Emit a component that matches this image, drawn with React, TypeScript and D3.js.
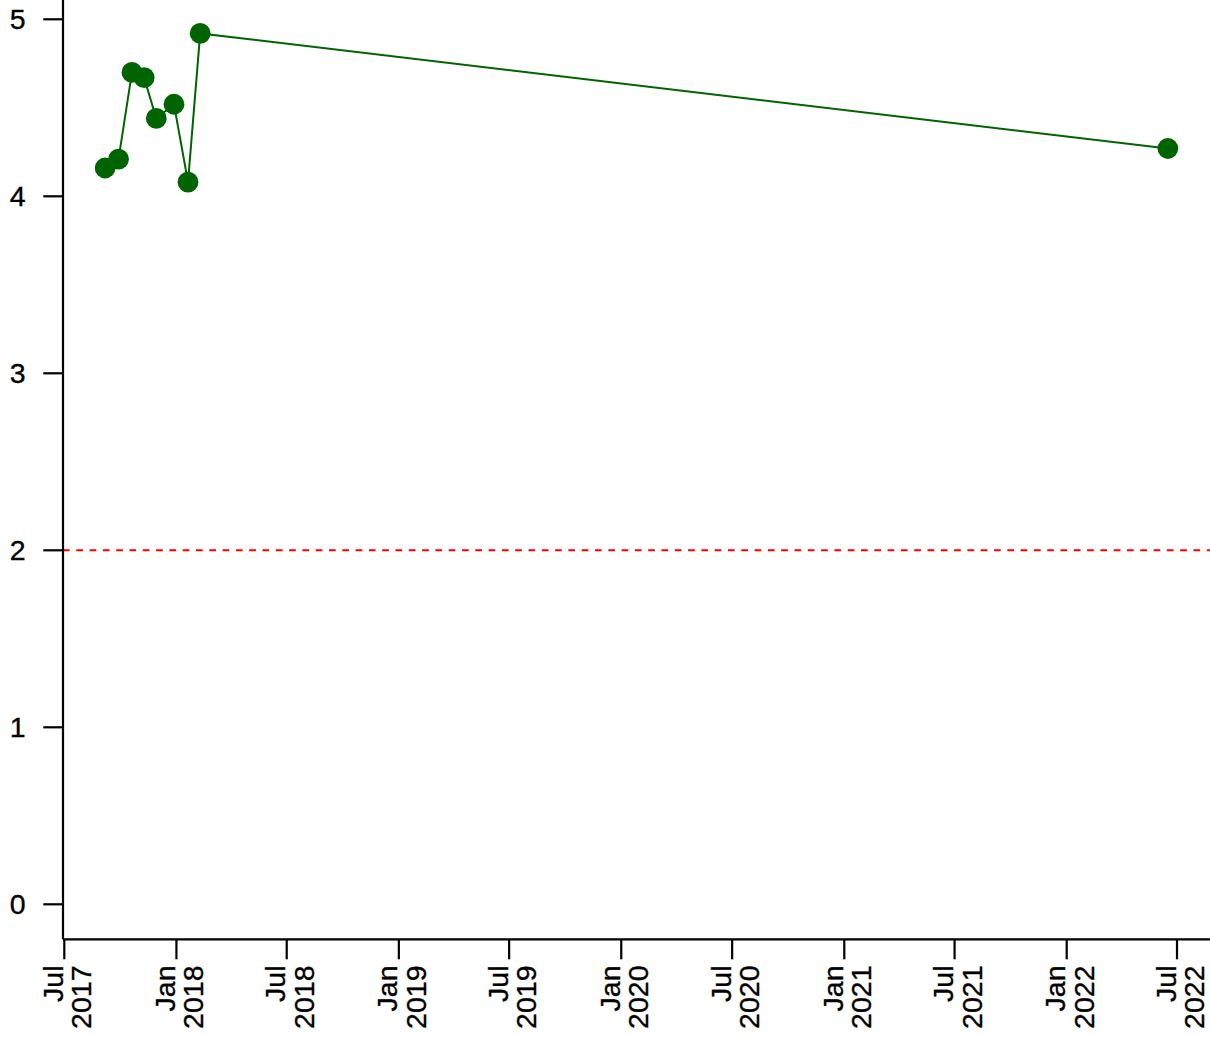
import React from 'react';
import * as d3 from 'd3';

// observation dates and values
const dates = [
  '2017-09-06', '2017-09-28', '2017-10-20', '2017-11-09', '2017-11-29',
  '2017-12-28', '2018-01-20', '2018-02-09', '2022-06-16',
];
const values = [4.16, 4.21, 4.7, 4.67, 4.44, 4.52, 4.08, 4.92, 4.27];
const yTicks = [0, 1, 2, 3, 4, 5];
const refLine = 2;
const monthNames = ['Jan', 'Feb', 'Mar', 'Apr', 'May', 'Jun', 'Jul', 'Aug', 'Sep', 'Oct', 'Nov', 'Dec'];

const W = 1210;
const H = 1037;
const axisX = 63;
const axisY = 939.3;
const font = '"Liberation Sans", Arial, Helvetica, sans-serif';
const fs = 28.5;

export default function App() {
  const parse = d3.timeParse('%Y-%m-%d');
  const data = dates.map((d, i) => ({ date: parse(d) as Date, value: values[i] }));

  const x = d3.scaleTime()
    .domain([new Date(2017, 6, 1), new Date(2022, 6, 1)])
    .range([64.3, 1177]);
  const y = d3.scaleLinear().domain([0, 5]).range([904.3, 19.3]);

  const xTicks = d3.timeMonth.every(6)!.range(new Date(2017, 6, 1), new Date(2022, 6, 2));

  const line = d3.line<{ date: Date; value: number }>()
    .x((d) => x(d.date))
    .y((d) => y(d.value));

  const textStyle = { fontFamily: font, fontSize: fs, stroke: '#000', strokeWidth: 0.35 };

  return (
    <svg width={W} height={H} style={{ position: 'absolute', left: 0, top: 0, background: '#fff' }}>
      {/* reference line */}
      <line x1={axisX} x2={W} y1={y(refLine)} y2={y(refLine)}
        stroke="#ff0000" strokeWidth={2} strokeDasharray="6.7,6.6" />

      {/* series */}
      <path d={line(data) || ''} fill="none" stroke="#006400" strokeWidth={2} />
      {data.map((d, i) => (
        <circle key={i} cx={x(d.date)} cy={y(d.value)} r={10.4} fill="#006400" />
      ))}

      {/* axes */}
      <line x1={axisX} x2={axisX} y1={0} y2={axisY} stroke="#000" strokeWidth={2.2} />
      <line x1={axisX} x2={W} y1={axisY} y2={axisY} stroke="#000" strokeWidth={2.2} />

      {yTicks.map((t) => (
        <g key={t}>
          <line x1={43.3} x2={axisX} y1={y(t)} y2={y(t)} stroke="#000" strokeWidth={2.2} />
          <text x={25.5} y={y(t)} dy="0.35em" textAnchor="end" style={textStyle}>{t}</text>
        </g>
      ))}

      {xTicks.map((t, i) => {
        const px = x(t);
        return (
          <g key={i}>
            <line x1={px} x2={px} y1={axisY} y2={axisY + 20} stroke="#000" strokeWidth={2.2} />
            <g transform={`translate(${px},965.5) rotate(-90)`}>
              <text x={0} y={-1.5} textAnchor="end" style={textStyle}>{monthNames[t.getMonth()]}</text>
              <text x={0} y={27} textAnchor="end" style={textStyle}>{t.getFullYear()}</text>
            </g>
          </g>
        );
      })}
    </svg>
  );
}
